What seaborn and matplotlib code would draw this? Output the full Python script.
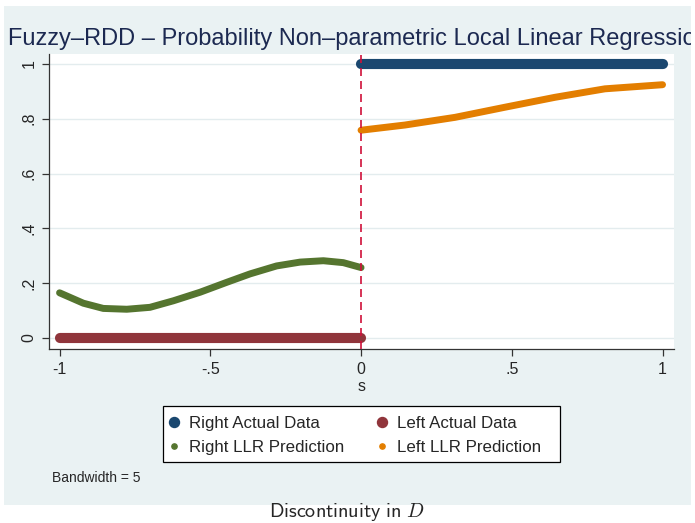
import numpy as np
import pandas as pd
import matplotlib
matplotlib.use("Agg")
import matplotlib.pyplot as plt
import seaborn as sns
from matplotlib.patches import Rectangle
from matplotlib.lines import Line2D

# ---- data ----
right_actual_s = [0.0, 0.25, 0.5, 0.75, 1.0]
right_actual_d = [1, 1, 1, 1, 1]
left_actual_s = [-1.0, -0.75, -0.5, -0.25, 0.0]
left_actual_d = [0, 0, 0, 0, 0]

right_llr_s = [-1.0, -0.921, -0.855, -0.777, -0.70, -0.622, -0.534, -0.446,
               -0.368, -0.28, -0.202, -0.125, -0.059, 0.0]
right_llr_d = [0.165, 0.127, 0.108, 0.105, 0.112, 0.136, 0.167, 0.203,
               0.234, 0.263, 0.277, 0.282, 0.275, 0.257]

left_llr_s = [0.0, 0.146, 0.312, 0.478, 0.643, 0.809, 1.0]
left_llr_d = [0.758, 0.777, 0.805, 0.842, 0.878, 0.909, 0.924]

x_ticks = [-1, -0.5, 0, 0.5, 1]
x_ticklabels = ["-1", "-.5", "0", ".5", "1"]
y_ticks = [0, 0.2, 0.4, 0.6, 0.8, 1]
y_ticklabels = ["0", ".2", ".4", ".6", ".8", "1"]

legend_labels = ["Right Actual Data", "Left Actual Data",
                 "Right LLR Prediction", "Left LLR Prediction"]

title = "Fuzzy\u2013RDD \u2013 Probability Non\u2013parametric Local Linear Regression"

# ---- style ----
sns.set_theme(style="white")
plt.rcParams["font.family"] = ["Liberation Sans", "DejaVu Sans"]
plt.rcParams["mathtext.fontset"] = "cm"

NAVY = "#1A476F"
MAROON = "#90353B"
GREEN = "#55752F"
ORANGE = "#E37E00"
BG = "#EAF2F3"

W, H = 695, 523
fig = plt.figure(figsize=(W / 100, H / 100), dpi=100, facecolor="white")

def fx(px):
    return px / W

def fy(py):
    return 1 - py / H

bg = Rectangle((fx(4), fy(505)), fx(691) - fx(4), fy(6) - fy(505),
               transform=fig.transFigure, facecolor=BG, edgecolor="none", zorder=-10)
fig.patches.append(bg)

ax = fig.add_axes([fx(49), fy(349), fx(674) - fx(49), fy(54) - fy(349)])
ax.set_facecolor("white")

line_kw = dict(solid_capstyle="round", solid_joinstyle="round")
sns.lineplot(x=right_actual_s, y=right_actual_d, ax=ax, color=NAVY, linewidth=7.3,
             zorder=3, **line_kw)
sns.lineplot(x=left_actual_s, y=left_actual_d, ax=ax, color=MAROON, linewidth=7.3,
             zorder=3, **line_kw)
sns.lineplot(x=right_llr_s, y=right_llr_d, ax=ax, color=GREEN, linewidth=5.0,
             zorder=4, **line_kw)
sns.lineplot(x=left_llr_s, y=left_llr_d, ax=ax, color=ORANGE, linewidth=5.0,
             zorder=4, **line_kw)

ax.axvline(0, color="#D0103A", linewidth=1.2, linestyle=(0, (4.8, 3)), zorder=5)

ax.set_xlim(-1.035, 1.038)
ax.set_ylim(-0.040, 1.036)
ax.set_xticks(x_ticks)
ax.set_xticklabels(x_ticklabels, fontsize=11.5)
ax.set_yticks(y_ticks)
ax.set_yticklabels(y_ticklabels, fontsize=11.5, rotation=90, va="center")
ax.tick_params(axis="both", direction="out", length=5, width=0.9, color="#333333",
               pad=4, bottom=True, left=True)
ax.yaxis.grid(True, color="#E3ECEE", linewidth=1.0)
ax.xaxis.grid(False)
for side in ["top", "right"]:
    ax.spines[side].set_visible(False)
for side in ["left", "bottom"]:
    ax.spines[side].set_color("#333333")
    ax.spines[side].set_linewidth(0.9)
ax.set_xlabel("s", fontsize=11.5, labelpad=1.5)
ax.set_ylabel("")

# legend (rows: actual data, then predictions; matplotlib fills column-wise)
h_ra = Line2D([], [], linestyle="none", marker="o", markersize=7.2, color=NAVY)
h_la = Line2D([], [], linestyle="none", marker="o", markersize=7.2, color=MAROON)
h_rp = Line2D([], [], linestyle="none", marker="o", markersize=3.8, color=GREEN)
h_lp = Line2D([], [], linestyle="none", marker="o", markersize=3.8, color=ORANGE)
handles = [h_ra, h_rp, h_la, h_lp]
labels = [legend_labels[0], legend_labels[2], legend_labels[1], legend_labels[3]]

frame = Rectangle((fx(163), fy(462)), fx(560) - fx(163), fy(406) - fy(462),
                  transform=fig.transFigure, facecolor="white", edgecolor="black",
                  linewidth=0.9, zorder=1)
fig.patches.append(frame)

leg = fig.legend(handles, labels, ncol=2, loc="upper left",
                 bbox_to_anchor=(fx(167.2), fy(416)),
                 fontsize=12.2, frameon=False, borderaxespad=0, borderpad=0,
                 handlelength=0.8, handletextpad=0.49, labelspacing=0.54,
                 columnspacing=1.83)
leg.set_zorder(2)

fig.text(fx(52), fy(482), "Bandwidth = 5", fontsize=10, va="baseline", ha="left")

t = fig.text(fx(8), fy(45), title, fontsize=17, color="#1C2951",
             va="baseline", ha="left")
t.set_clip_path(bg)

fig.text(fx(347), fy(517), r"$\mathsf{Discontinuity\ in}\ D$", fontsize=14.5,
         ha="center", va="baseline")

fig.savefig("out.png", dpi=100, facecolor="white")
